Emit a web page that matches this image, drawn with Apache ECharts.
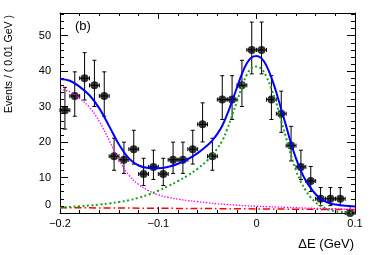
<!DOCTYPE html>
<html><head><meta charset="utf-8">
<script src="https://cdn.jsdelivr.net/npm/echarts@6/dist/echarts.min.js"></script>
<style>html,body{margin:0;padding:0;background:#fff}#c{width:374px;height:255px}</style>
</head><body><div id="c"></div>
<script>
// ---- data ----
const binCenters = [-0.195,-0.185,-0.175,-0.165,-0.155,-0.145,-0.135,-0.125,-0.115,-0.105,
  -0.095,-0.085,-0.075,-0.065,-0.055,-0.045,-0.035,-0.025,-0.015,-0.005,
  0.005,0.015,0.025,0.035,0.045,0.055,0.065,0.075,0.085,0.095];
const counts = [29,33,38,36,33,16,15,18,11,13,11,15,15,18,25,16,32,32,36,46,46,32,28,19,13,9,4,4,4,0];
const errHigh = [6.45,6.81,7.22,7.06,6.81,5.09,4.97,5.33,4.43,4.71,4.43,4.97,4.97,5.33,6.07,5.09,6.72,6.72,7.06,7.84,7.84,6.72,6.36,5.44,4.71,4.12,3.18,3.18,3.18,1.87];
const errLow  = [5.35,5.71,6.13,5.97,5.71,3.95,3.83,4.20,3.26,3.55,3.26,3.83,3.83,4.20,4.96,3.95,5.63,5.63,5.97,6.76,6.76,5.63,5.26,4.32,3.55,2.94,1.91,1.91,1.91,0];

const curveX = [-0.2,-0.19,-0.18,-0.17,-0.16,-0.15,-0.14,-0.13,-0.12,-0.11,-0.1,-0.09,-0.08,-0.07,-0.06,-0.05,
  -0.045,-0.04,-0.035,-0.03,-0.025,-0.02,-0.015,-0.01,-0.005,0,
  0.005,0.01,0.015,0.02,0.025,0.03,0.035,0.04,0.045,0.05,0.055,0.06,0.065,0.07,0.075,0.08,0.085,0.09,0.095,0.1];
const totalFit = [37.8,37.3,35.6,33.2,29.5,24.5,19.3,15.4,13.4,12.7,12.6,13.0,13.9,15.2,16.9,19.1,
  20.5,22.3,24.6,27.8,31.5,35.4,39.2,42.2,43.9,44.3,
  43.6,41.5,38.2,34.0,29.2,24.5,19.6,15.4,11.9,9.1,7.0,5.3,4.0,3.2,2.7,2.4,2.2,2.05,1.95,1.85];
const signalFit = [1.5,1.7,1.9,2.1,2.4,2.7,3.1,3.6,4.3,5.2,6.3,7.6,9.0,10.6,12.5,14.9,
  16.4,18.2,20.4,23.6,27.5,31.5,35.5,39.0,40.9,41.3,
  40.6,38.4,35.0,31.0,26.0,21.2,16.2,12.0,8.8,6.3,4.4,3.0,2.0,1.3,0.8,0.5,0.3,0.2,0.1,0.05];
const bkgX = [-0.2,-0.19,-0.18,-0.17,-0.16,-0.15,-0.14,-0.13,-0.12,-0.11,-0.1,-0.09,-0.08,-0.07,-0.06,-0.05,
  -0.04,-0.03,-0.02,-0.01,0,0.01,0.02,0.03,0.04,0.05,0.06,0.07,0.08,0.09,0.1];
const peakingBkg = [34.8,34.2,32.3,29.8,25.8,20.5,15.0,10.7,8.0,6.3,5.1,4.4,3.9,3.5,3.2,2.9,
  2.6,2.4,2.2,2.05,1.9,1.8,1.7,1.6,1.5,1.4,1.3,1.25,1.2,1.1,1.05];
const flatX = [-0.2,-0.15,-0.1,-0.05,0,0.05,0.1];
const flatBkg = [1.5,1.42,1.33,1.25,1.15,1.05,0.95];

const xTitle = 'ΔE (GeV)';
const yTitle = 'Events / ( 0.01 GeV )';
const panelLabel = '(b)';

// ---- chart ----
const FONT = '"Liberation Sans", Arial, Helvetica, sans-serif';
const binHalf = 0.005;
const zip = (xs, ys) => xs.map((x, i) => [x, ys[i]]);

const chart = echarts.init(document.getElementById('c'), null, {renderer: 'canvas'});

const blk = {color: '#000', width: 1};
function xAxisCfg(pos, labels) {
  return {
    type: 'value', position: pos, min: -0.2, max: 0.1, interval: 0.1,
    axisLine: {show: true, onZero: false, lineStyle: blk},
    axisTick: {show: true, inside: true, length: 6, lineStyle: blk},
    minorTick: {show: true, splitNumber: 5, length: 3, lineStyle: blk},
    splitLine: {show: false}, minorSplitLine: {show: false},
    axisLabel: {show: labels, margin: 5, fontFamily: FONT, fontSize: 11, color: '#000',
      formatter: v => Math.abs(v) < 1e-9 ? '0' : String(+v.toFixed(2)).replace('-', '\u2212')}
  };
}
function yAxisCfg(pos, interval, len, labels, line) {
  return {
    type: 'value', position: pos, min: 0, max: 56.4, interval: interval,
    axisLine: {show: line, onZero: false, lineStyle: blk},
    axisTick: {show: true, inside: true, length: len, lineStyle: blk},
    splitLine: {show: false},
    axisLabel: {show: labels, margin: 9, showMaxLabel: false, fontFamily: FONT, fontSize: 11, color: '#000',
      formatter: v => v === 0 ? '{z|0}' : String(v),
      rich: {z: {fontFamily: FONT, fontSize: 11, color: '#000', padding: [0, 0, 16, 0]}}}
  };
}

function renderErr(params, api) {
  const x = api.value(0), y = api.value(1), lo = api.value(2), hi = api.value(3);
  const t = api.coord([x, y + hi]), b = api.coord([x, y - lo]);
  const l = api.coord([x - binHalf, y]), r = api.coord([x + binHalf, y]);
  const c = 2;
  const st = {stroke: '#000', lineWidth: 1};
  const ln = (x1, y1, x2, y2) => ({type: 'line', shape: {x1, y1, x2, y2}, style: st});
  const kids = [
    ln(t[0], t[1], b[0], b[1]),
    ln(t[0] - c, t[1], t[0] + c, t[1]),
    ln(l[0], l[1], r[0], r[1]),
    ln(l[0], l[1] - c, l[0], l[1] + c),
    ln(r[0], r[1] - c, r[0], r[1] + c)
  ];
  if (lo > 0) kids.push(ln(b[0] - c, b[1], b[0] + c, b[1]));
  return {type: 'group', children: kids};
}

const lineBase = {type: 'line', showSymbol: false, symbol: 'none', xAxisIndex: 0, yAxisIndex: 0, animation: false};

chart.setOption({
  animation: false,
  backgroundColor: '#fff',
  grid: {left: 60, right: 19, top: 13, bottom: 42},
  xAxis: [xAxisCfg('bottom', true), xAxisCfg('top', false)],
  yAxis: [
    yAxisCfg('left', 10, 8, true, true),
    yAxisCfg('left', 2, 4, false, false),
    yAxisCfg('right', 10, 8, false, true),
    yAxisCfg('right', 2, 4, false, false)
  ],
  series: [
    {type: 'custom', xAxisIndex: 0, yAxisIndex: 0, renderItem: renderErr, clip: false, z: 2,
      data: binCenters.map((x, i) => [x, counts[i], errLow[i], errHigh[i]])},
    {type: 'scatter', xAxisIndex: 0, yAxisIndex: 0, symbol: 'circle', symbolSize: 8, clip: false, z: 3,
      itemStyle: {color: '#000'}, data: zip(binCenters, counts)},
    Object.assign({}, lineBase, {data: zip(flatX, flatBkg), z: 4,
      lineStyle: {color: '#ff0000', width: 1.5, type: [7, 3, 1.5, 3]}}),
    Object.assign({}, lineBase, {data: zip(bkgX, peakingBkg), smooth: 0.4, z: 4,
      lineStyle: {color: '#ff00ff', width: 1.3, type: [1.5, 1.5]}}),
    Object.assign({}, lineBase, {data: zip(curveX, signalFit), smooth: 0.4, z: 4,
      lineStyle: {color: '#17a017', width: 2, type: [2, 2.5]}}),
    Object.assign({}, lineBase, {data: zip(curveX, totalFit), smooth: 0.4, z: 5,
      lineStyle: {color: '#0000ff', width: 2, type: 'solid'}})
  ],
  graphic: [
    {type: 'text', left: 75, top: 20, style: {text: panelLabel, fontFamily: FONT, fontSize: 13, fill: '#000'}},
    {type: 'text', x: 354, y: 244, style: {text: xTitle, fontFamily: FONT, fontSize: 13, fill: '#000', align: 'right', verticalAlign: 'middle'}},
    {type: 'text', x: 9, y: 15, rotation: Math.PI / 2, style: {text: yTitle, fontFamily: FONT, fontSize: 10.5, fill: '#000', align: 'right', verticalAlign: 'middle'}}
  ]
});
</script></body></html>
